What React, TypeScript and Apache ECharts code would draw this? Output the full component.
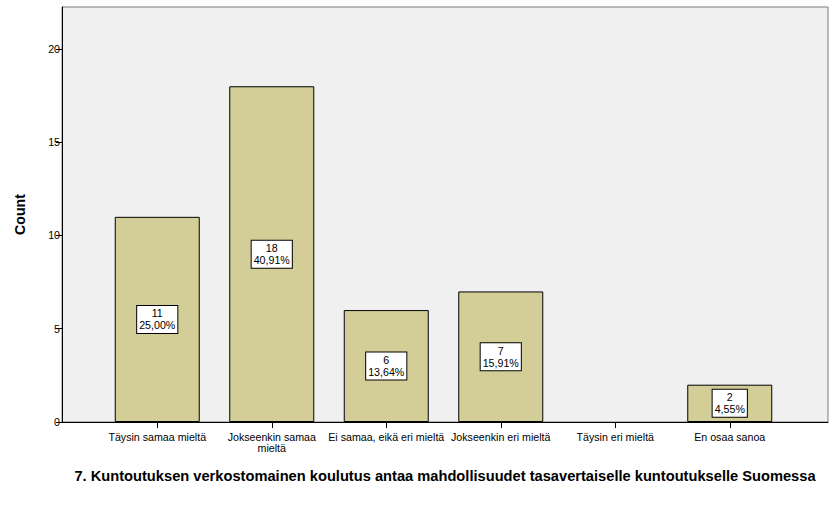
import React, { useEffect, useRef } from "react";
import * as echarts from "echarts";

const categories = [
  "Täysin samaa mieltä",
  "Jokseenkin samaa mieltä",
  "Ei samaa, eikä eri mieltä",
  "Jokseenkin eri mieltä",
  "Täysin eri mieltä",
  "En osaa sanoa",
];
const counts = [11, 18, 6, 7, 0, 2];
const percentLabels = ["25,00%", "40,91%", "13,64%", "15,91%", "0,00%", "4,55%"];
const yTicks = [0, 5, 10, 15, 20];
const xTitle = "7. Kuntoutuksen verkostomainen koulutus antaa mahdollisuudet tasavertaiselle kuntoutukselle Suomessa";
const yTitle = "Count";

const FONT = "'Liberation Sans', Arial, sans-serif";
const Y_MAX = 22.25;
const SMALL = 10.67;

export default function App() {
  const ref = useRef<HTMLDivElement>(null);
  useEffect(() => {
    if (!ref.current) return;
    const chart = echarts.init(ref.current, null, { renderer: "svg" });
    chart.setOption({
      animation: false,
      backgroundColor: "#ffffff",
      textStyle: { fontFamily: FONT },
      grid: [
        {
          left: 62,
          right: 8,
          top: 7,
          bottom: 86,
          show: true,
          backgroundColor: "#f0f0f0",
          borderColor: "#7a7a7a",
          borderWidth: 1,
        },
        { left: 100, right: 49, top: 7, bottom: 86 },
      ],
      xAxis: [
        {
          gridIndex: 0,
          type: "value",
          min: 0,
          max: 1,
          name: xTitle,
          nameLocation: "middle",
          nameGap: 46,
          nameTextStyle: { fontFamily: FONT, fontWeight: "bold", fontSize: 14.67, color: "#000" },
          axisLine: { show: true, onZero: false, lineStyle: { color: "#000", width: 1 } },
          axisTick: { show: false },
          axisLabel: { show: false },
          splitLine: { show: false },
        },
        {
          gridIndex: 1,
          type: "category",
          data: categories,
          axisLine: { show: false },
          axisTick: { show: true, alignWithLabel: true, length: 6, lineStyle: { color: "#000" } },
          axisLabel: {
            fontFamily: FONT,
            fontSize: SMALL,
            color: "#000",
            margin: 9,
            lineHeight: 11,
            interval: 0,
            formatter: (v: string) => (v === "Jokseenkin samaa mieltä" ? "Jokseenkin samaa\nmieltä" : v),
          },
          splitLine: { show: false },
        },
      ],
      yAxis: [
        {
          gridIndex: 0,
          type: "value",
          min: yTicks[0],
          max: Y_MAX,
          interval: 5,
          name: yTitle,
          nameLocation: "middle",
          nameGap: 35,
          nameTextStyle: { fontFamily: FONT, fontWeight: "bold", fontSize: 14.2, color: "#000" },
          axisLine: { show: true, lineStyle: { color: "#000", width: 1 } },
          axisTick: { show: true, length: 6, lineStyle: { color: "#000" } },
          axisLabel: {
            fontFamily: FONT,
            fontSize: SMALL,
            color: "#000",
            margin: 2,
            showMaxLabel: false,
            formatter: (v: number) => (yTicks.includes(v) ? String(v) : ""),
          },
          splitLine: { show: false },
        },
        {
          gridIndex: 1,
          type: "value",
          min: 0,
          max: Y_MAX,
          show: false,
          splitLine: { show: false },
        },
      ],
      series: [
        {
          type: "bar",
          xAxisIndex: 1,
          yAxisIndex: 1,
          data: counts.map((c) => (c === 0 ? null : c)),
          barWidth: 85,
          itemStyle: { color: "#d3ce97", borderColor: "#000", borderWidth: 1 },
          label: {
            show: true,
            position: "inside",
            formatter: (p: any) => `${counts[p.dataIndex]}\n${percentLabels[p.dataIndex]}`,
            fontFamily: FONT,
            fontSize: SMALL,
            lineHeight: 12,
            color: "#000",
            backgroundColor: "#ffffff",
            borderColor: "#000",
            borderWidth: 1,
            padding: [2, 2, 1, 2],
            align: "center",
          },
        },
      ],
    });
    return () => chart.dispose();
  }, []);
  return (
    <div
      ref={ref}
      style={{ position: "fixed", left: 0, top: 0, width: 836, height: 508 }}
    />
  );
}
